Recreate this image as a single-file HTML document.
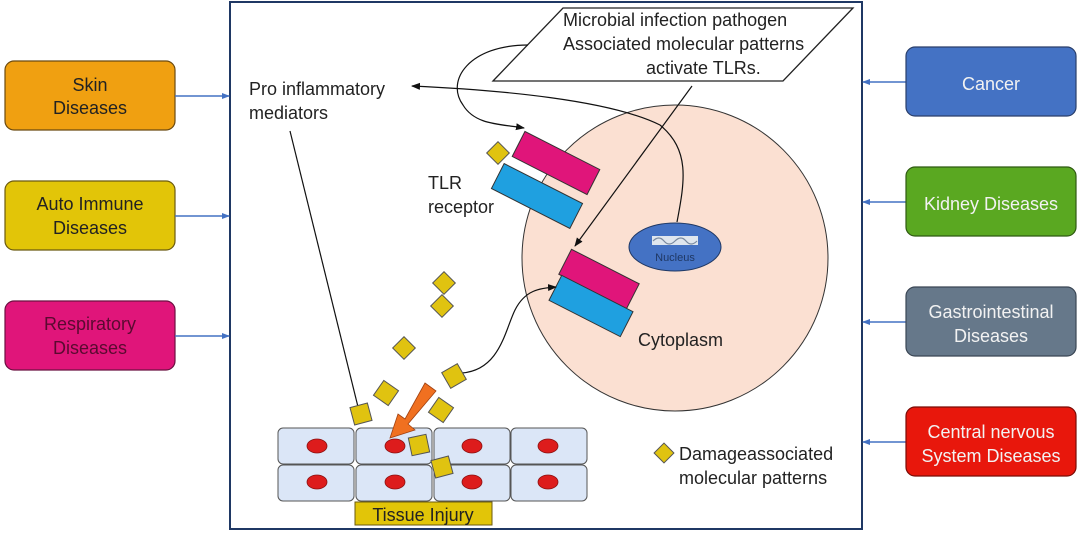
<!DOCTYPE html>
<html><head><meta charset="utf-8"><style>
html,body{margin:0;padding:0;background:#fff;}
svg{display:block;font-family:"Liberation Sans",sans-serif;}
</style></head><body>
<svg width="1080" height="533" viewBox="0 0 1080 533" xmlns="http://www.w3.org/2000/svg">
<defs>
<marker id="ab" markerWidth="8" markerHeight="8" refX="7" refY="4" orient="auto" markerUnits="userSpaceOnUse"><path d="M0,1 L8,4 L0,7 z" fill="#4472c4"/></marker>
<marker id="ak" markerWidth="9" markerHeight="8" refX="8" refY="4" orient="auto" markerUnits="userSpaceOnUse"><path d="M0,0.5 L9,4 L0,7.5 z" fill="#111"/></marker>
</defs>
<rect x="0" y="0" width="1080" height="533" fill="#fff"/>
<!-- main frame -->
<rect x="230" y="2" width="632" height="527" fill="#fff" stroke="#1f3864" stroke-width="2"/>
<!-- left boxes -->
<g font-size="18" text-anchor="middle" fill="#222">
<rect x="5" y="61" width="170" height="69" rx="9" fill="#f0a011" stroke="#6b4a10" stroke-width="1.2"/>
<text x="90" y="91">Skin</text><text x="90" y="114">Diseases</text>
<rect x="5" y="181" width="170" height="69" rx="9" fill="#e2c508" stroke="#6b5a10" stroke-width="1.2"/>
<text x="90" y="210">Auto Immune</text><text x="90" y="234">Diseases</text>
<rect x="5" y="301" width="170" height="69" rx="9" fill="#e0157a" stroke="#6b1040" stroke-width="1.2"/>
<text x="90" y="330" fill="#5a0a30">Respiratory</text><text x="90" y="354" fill="#5a0a30">Diseases</text>
</g>
<g stroke="#4472c4" stroke-width="1.5">
<line x1="175" y1="96" x2="229" y2="96" marker-end="url(#ab)"/>
<line x1="175" y1="216" x2="229" y2="216" marker-end="url(#ab)"/>
<line x1="175" y1="336" x2="229" y2="336" marker-end="url(#ab)"/>
<line x1="906" y1="82" x2="863" y2="82" marker-end="url(#ab)"/>
<line x1="906" y1="202" x2="863" y2="202" marker-end="url(#ab)"/>
<line x1="906" y1="322" x2="863" y2="322" marker-end="url(#ab)"/>
<line x1="906" y1="442" x2="863" y2="442" marker-end="url(#ab)"/>
</g>
<!-- right boxes -->
<g font-size="18" text-anchor="middle" fill="#f2f2f2">
<rect x="906" y="47" width="170" height="69" rx="9" fill="#4472c4" stroke="#2a3f6b" stroke-width="1.2"/>
<text x="991" y="90">Cancer</text>
<rect x="906" y="167" width="170" height="69" rx="9" fill="#5aa821" stroke="#2f5a12" stroke-width="1.2"/>
<text x="991" y="210">Kidney Diseases</text>
<rect x="906" y="287" width="170" height="69" rx="9" fill="#66788a" stroke="#3a4654" stroke-width="1.2"/>
<text x="991" y="318">Gastrointestinal</text><text x="991" y="342">Diseases</text>
<rect x="906" y="407" width="170" height="69" rx="9" fill="#e8170c" stroke="#7a0c06" stroke-width="1.2"/>
<text x="991" y="438">Central nervous</text><text x="991" y="462">System Diseases</text>
</g>
<!-- cell -->
<circle cx="675" cy="258" r="153" fill="#fbe0d2" stroke="#333" stroke-width="1"/>
<ellipse cx="675" cy="247" rx="46" ry="24" fill="#4472c4" stroke="#1f3864" stroke-width="1"/>
<rect x="652" y="236" width="46" height="9" fill="#dfe6ee"/>
<path d="M653,241 q6,-6 11,0 t11,0 t11,0 t11,0" stroke="#7a8aa0" fill="none" stroke-width="1.2"/>
<text x="675" y="261" font-size="11" text-anchor="middle" fill="#1f3864">Nucleus</text>
<text x="638" y="346" font-size="18" fill="#222">Cytoplasm</text>
<!-- parallelogram -->
<polygon points="493,81 563,8 853,8 783,81" fill="#fff" stroke="#222" stroke-width="1.3"/>
<g font-size="18" fill="#222">
<text x="563" y="26">Microbial infection pathogen</text>
<text x="563" y="50">Associated molecular patterns</text>
<text x="646" y="74">activate TLRs.</text>
</g>
<!-- receptors -->
<g stroke="#333" stroke-width="1">
<rect x="-42" y="-14" width="84" height="28" fill="#e0157a" transform="translate(556,163) rotate(27)"/>
<rect x="-44" y="-14" width="88" height="28" fill="#1fa0e0" transform="translate(537,196) rotate(27)"/>
<rect x="-38" y="-14" width="76" height="28" fill="#e0157a" transform="translate(599,279) rotate(27)"/>
<rect x="-40" y="-14" width="80" height="28" fill="#1fa0e0" transform="translate(591,306) rotate(27)"/>
</g>
<text x="428" y="189" font-size="18" fill="#222">TLR</text>
<text x="428" y="213" font-size="18" fill="#222">receptor</text>
<text x="249" y="95" font-size="18" fill="#222">Pro inflammatory</text>
<text x="249" y="119" font-size="18" fill="#222">mediators</text>
<!-- connectors -->
<g fill="none" stroke="#111" stroke-width="1.2">
<path d="M528,45 C470,45 445,80 463,105 C475,125 500,124 524,128" marker-end="url(#ak)"/>
<path d="M692,86 L575,246" marker-end="url(#ak)"/>
<path d="M677,222 C685,180 690,150 660,125 C610,100 500,90 412,86" marker-end="url(#ak)"/>
<path d="M462,373 C500,370 505,330 515,310 C525,290 540,288 556,287" marker-end="url(#ak)"/>
<path d="M290,131 L360,415" marker-end="url(#ak)"/>
</g>
<!-- tissue -->
<g fill="#dbe6f7" stroke="#555" stroke-width="1">
<rect x="278" y="428" width="76" height="36" rx="5"/><rect x="356" y="428" width="76" height="36" rx="5"/>
<rect x="434" y="428" width="76" height="36" rx="5"/><rect x="511" y="428" width="76" height="36" rx="5"/>
<rect x="278" y="465" width="76" height="36" rx="5"/><rect x="356" y="465" width="76" height="36" rx="5"/>
<rect x="434" y="465" width="76" height="36" rx="5"/><rect x="511" y="465" width="76" height="36" rx="5"/>
</g>
<g fill="#dd1c1c" stroke="#8a1010" stroke-width="0.8">
<ellipse cx="317" cy="446" rx="10" ry="7"/><ellipse cx="395" cy="446" rx="10" ry="7"/><ellipse cx="472" cy="446" rx="10" ry="7"/><ellipse cx="548" cy="446" rx="10" ry="7"/>
<ellipse cx="317" cy="482" rx="10" ry="7"/><ellipse cx="395" cy="482" rx="10" ry="7"/><ellipse cx="472" cy="482" rx="10" ry="7"/><ellipse cx="548" cy="482" rx="10" ry="7"/>
</g>
<rect x="355" y="502" width="137" height="23" fill="#e2c508" stroke="#6b5a10" stroke-width="1"/>
<text x="423" y="521" font-size="18" text-anchor="middle" fill="#222">Tissue Injury</text>
<!-- orange arrow -->
<polygon points="425,383 436,391 408,424 415,430 390,438 398,414 405,419" fill="#f07020" stroke="#a04010" stroke-width="0.8"/>
<!-- diamonds -->
<g fill="#e0c310" stroke="#555" stroke-width="1">
<rect x="-8" y="-8" width="16" height="16" transform="translate(498,153) rotate(45)"/>
<rect x="-8" y="-8" width="16" height="16" transform="translate(444,283) rotate(45)"/>
<rect x="-8" y="-8" width="16" height="16" transform="translate(442,306) rotate(45)"/>
<rect x="-8" y="-8" width="16" height="16" transform="translate(404,348) rotate(45)"/>
<rect x="-9" y="-9" width="18" height="18" transform="translate(386,393) rotate(35)"/>
<rect x="-9" y="-9" width="18" height="18" transform="translate(454,376) rotate(-30)"/>
<rect x="-9" y="-9" width="18" height="18" transform="translate(441,410) rotate(35)"/>
<rect x="-9" y="-9" width="18" height="18" transform="translate(361,414) rotate(-15)"/>
<rect x="-9" y="-9" width="18" height="18" transform="translate(419,445) rotate(-12)"/>
<rect x="-9" y="-9" width="18" height="18" transform="translate(442,467) rotate(-15)"/>
<rect x="-7" y="-7" width="14" height="14" transform="translate(664,453) rotate(45)"/>
</g>
<text x="679" y="460" font-size="18" fill="#222">Damageassociated</text>
<text x="679" y="484" font-size="18" fill="#222">molecular patterns</text>
</svg>
</body></html>
